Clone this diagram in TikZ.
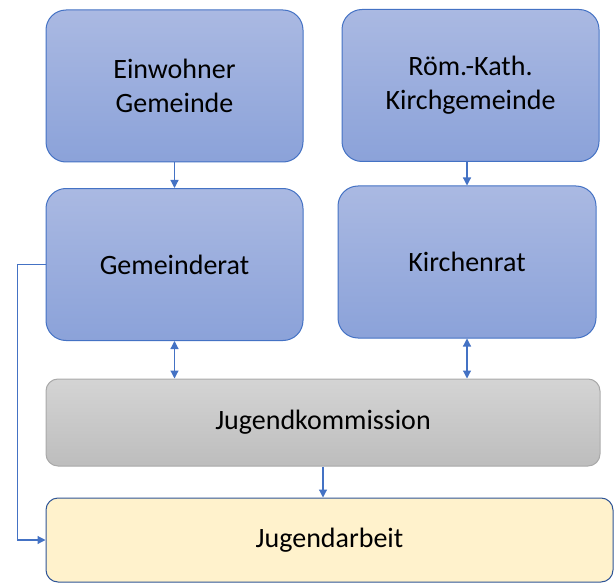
\documentclass[tikz,border=0pt]{standalone}
\usepackage{fontspec}
\setmainfont{Carlito}
\usetikzlibrary{arrows.meta,positioning,calc}

\definecolor{boxblue}{HTML}{4472C4}
\definecolor{bluetop}{HTML}{AAB9E2}
\definecolor{bluebot}{HTML}{8BA2D9}
\definecolor{graytop}{HTML}{D4D4D4}
\definecolor{graybot}{HTML}{BDBDBD}
\definecolor{grayline}{HTML}{A9A9A9}
\definecolor{yellowfill}{HTML}{FFF2CC}
\definecolor{darkblue}{HTML}{2F5597}

\begin{document}
\begin{tikzpicture}[
        x=0.5pt, y=-0.5pt,
        organ/.style={rectangle, draw=boxblue, line width=0.5pt,
            top color=bluetop, bottom color=bluebot,
            rounded corners=10pt, minimum width=128.5pt, minimum height=76pt,
            align=center, font=\fontsize{14}{17}\selectfont},
        kommission/.style={organ, draw=grayline, top color=graytop, bottom color=graybot,
            rounded corners=6pt, minimum width=277pt, minimum height=43.5pt},
        arbeit/.style={organ, draw=darkblue, fill=yellowfill, top color=yellowfill, bottom color=yellowfill,
            rounded corners=6pt, minimum width=283.5pt, minimum height=42pt},
        rel/.style={-{Triangle[length=4pt, width=4pt]}, line width=0.6pt, boxblue},
        both/.style={rel, {Triangle[length=4pt, width=4pt]}-{Triangle[length=4pt, width=4pt]}},
    ]
        \useasboundingbox (0,0) rectangle (616,583);

        % Top row
        \node[organ] (einwohner) at (174.5, 86) {Einwohner\\Gemeinde};
        \node[organ] (roemkath) at (470.5, 85.5) {Röm.-Kath.\\Kirchgemeinde};

        % Councils
        \node[organ] (gemeinderat) at (174.5, 264.5) {Gemeinderat};
        \node[organ, minimum width=129pt] (kirchenrat) at (467, 262) {Kirchenrat};

        % Commission and youth work
        \node[kommission] (jugendkommission) at (323, 422.5) {Jugendkommission};
        \node[arbeit] (jugendarbeit) at (329.5, 540) {Jugendarbeit};

        % Connections
        \draw[rel] (einwohner.south) -- (gemeinderat.north);
        \draw[rel] (kirchenrat.north |- roemkath.south) -- (kirchenrat.north);
        \draw[both] (gemeinderat.south) -- (gemeinderat.south |- jugendkommission.north);
        \draw[both] (kirchenrat.south) -- (kirchenrat.south |- jugendkommission.north);
        \draw[rel] (jugendkommission.south) -- (jugendkommission.south |- jugendarbeit.north);
        \draw[rel] (gemeinderat.west) -- ++(-28,0) |- (jugendarbeit.west);
    \end{tikzpicture}
\end{document}
